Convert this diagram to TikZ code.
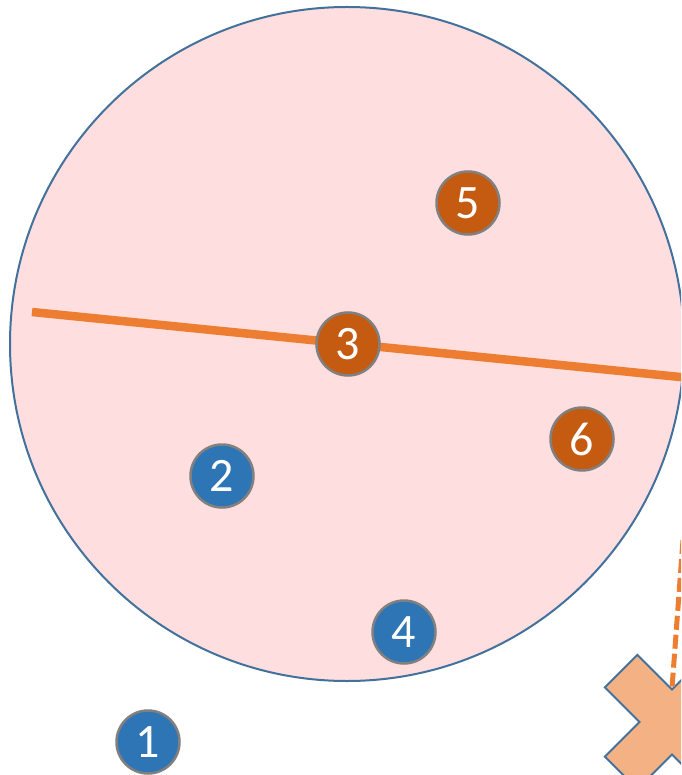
\documentclass[tikz,border=0pt]{standalone}
\usepackage{fontspec}
\setmainfont{Carlito}
\definecolor{ringblue}{HTML}{41719C}
\definecolor{ringfill}{HTML}{FFDEDF}
\definecolor{cutorange}{HTML}{ED7D31}
\definecolor{ptblue}{HTML}{2E75B6}
\definecolor{ptorange}{HTML}{C55A11}
\definecolor{crossfill}{HTML}{F4B183}
\begin{document}
\begin{tikzpicture}[x=1pt,y=-1pt,
    pt/.style={circle,draw=black!50,line width=2.5pt,minimum size=63pt,
      inner sep=0pt,text=white,font=\fontsize{48}{48}\selectfont},
    ptb/.style={pt,fill=ptblue},
    pto/.style={pt,fill=ptorange}]
  \useasboundingbox (0,0) rectangle (681,775);
  \clip (0,0) rectangle (681,775);
  % Ball
  \draw[ringblue,fill=ringfill,line width=2pt] (347,344) circle[radius=337pt];
  % Split line
  \coordinate (cutL) at (32,312);
  \coordinate (cutR) at (700,379);
  \draw[cutorange,line width=8.5pt] (cutL) -- (cutR);
  % Query cross
  \begin{scope}[shift={(672,722)},rotate=45]
    \draw[ringblue,fill=crossfill,line width=2pt]
      (23,23) -- (23,72) -- (-23,72) -- (-23,23) -- (-72,23) -- (-72,-23)
      -- (-23,-23) -- (-23,-72) -- (23,-72) -- (23,-23) -- (72,-23)
      -- (72,23) -- cycle;
  \end{scope}
  \coordinate (xtop) at (672,688);
  \coordinate (dashtop) at (683,540);
  \draw[cutorange,line width=5pt,dash pattern=on 14pt off 5pt] (dashtop) -- (xtop);
  % Points
  \node[ptb] (p1) at (148,742) {1};
  \node[ptb] (p2) at (222,476) {2};
  \node[pto] (p3) at (348,344) {3};
  \node[ptb] (p4) at (404,632) {4};
  \node[pto] (p5) at (468,203) {5};
  \node[pto] (p6) at (582,439) {6};
\end{tikzpicture}
\end{document}
